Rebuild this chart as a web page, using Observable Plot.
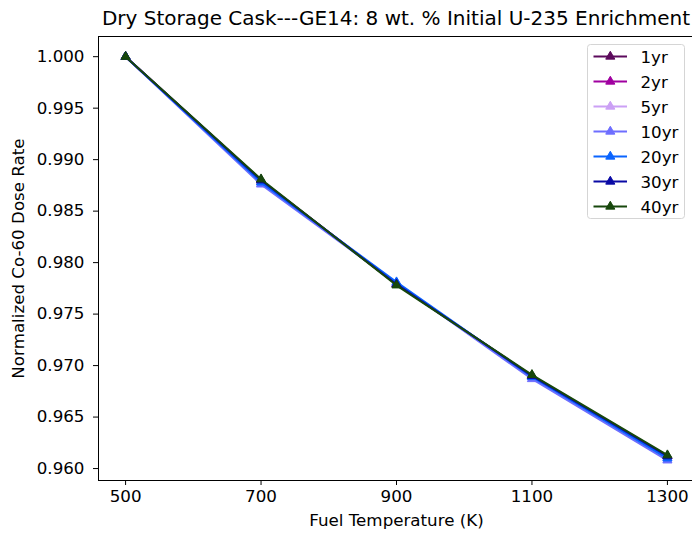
<!DOCTYPE html>
<html>
<head>
<meta charset="utf-8">
<script src="https://cdn.jsdelivr.net/npm/d3@7"></script>
<script src="https://cdn.jsdelivr.net/npm/@observablehq/plot@0.6"></script>
<style>
  html, body { margin: 0; padding: 0; background: white; overflow: hidden; }
  #chart { position: relative; width: 692px; height: 533px; }
</style>
</head>
<body>
<div id="chart"></div>
<script>
const temps = [500, 700, 900, 1100, 1300];
const seriesNames = ["1yr", "2yr", "5yr", "10yr", "20yr", "30yr", "40yr"];
const seriesColors = ["#5c0a5c", "#a000a0", "#cba0f5", "#6e6eff", "#0a64ff", "#0a0aa5", "#17470c"];
const yr1  = [1.0000, 0.9880, 0.9779, 0.9690, 0.9612];
const yr2  = [1.0000, 0.9880, 0.9779, 0.9690, 0.9612];
const yr5  = [1.0000, 0.9878, 0.9780, 0.9689, 0.9610];
const yr10 = [1.0000, 0.9876, 0.9780, 0.9687, 0.9608];
const yr20 = [1.0000, 0.9878, 0.9781, 0.9689, 0.9610];
const yr30 = [1.0000, 0.9880, 0.9779, 0.9690, 0.9612];
const yr40 = [1.0000, 0.9881, 0.9778, 0.9691, 0.9613];
const yTicks = [0.960, 0.965, 0.970, 0.975, 0.980, 0.985, 0.990, 0.995, 1.000];
const xTicks = [500, 700, 900, 1100, 1300];
const titleText = "Dry Storage Cask---GE14: 8 wt. % Initial U-235 Enrichment";

const allSeries = [yr1, yr2, yr5, yr10, yr20, yr30, yr40];
const rows = [];
seriesNames.forEach((s, i) => {
  temps.forEach((t, j) => rows.push({s, t, v: allSeries[i][j], order: i}));
});

const marks = [];
seriesNames.forEach((s) => {
  const d = rows.filter(r => r.s === s);
  marks.push(Plot.line(d, {x: "t", y: "v", stroke: "s", strokeWidth: 2.1}));
  marks.push(Plot.dot(d, {x: "t", y: "v", fill: "s", stroke: "s", strokeWidth: 1, symbol: "triangle", r: 3.4}));
});

const FS = 16.7;
const svg = Plot.plot({
  width: 692,
  height: 533,
  marginLeft: 98,
  marginRight: -2,
  marginTop: 36,
  marginBottom: 53,
  style: {fontFamily: "DejaVu Sans", fontSize: FS + "px", color: "black", background: "white"},
  x: {domain: [460, 1340]},
  y: {domain: [0.95884, 1.00196]},
  color: {domain: seriesNames, range: seriesColors},
  marks: [
    ...marks,
    Plot.frame({stroke: "black", strokeWidth: 1}),
    Plot.axisX({ticks: xTicks, tickFormat: d => String(d), tickSize: 5, tickPadding: 5, label: "Fuel Temperature (K)", labelAnchor: "center", labelOffset: 45, labelArrow: "none", fontSize: FS}),
    Plot.axisY({ticks: yTicks, tickFormat: d3.format(".3f"), tickSize: 5, tickPadding: 9, label: "Normalized Co-60 Dose Rate", labelAnchor: "center", labelOffset: 86, labelArrow: "none", fontSize: FS})
  ]
});

const root = d3.select(svg);
root.selectAll("text").attr("font-size", FS + "px");
root.append("text")
  .attr("x", 396).attr("y", 25)
  .attr("text-anchor", "middle")
  .attr("font-family", "DejaVu Sans")
  .attr("font-size", "20px")
  .attr("fill", "black")
  .text(titleText);

const lg = root.append("g").attr("transform", "translate(587,44)");
lg.append("rect").attr("x", 0.5).attr("y", 0.5).attr("width", 97).attr("height", 174)
  .attr("rx", 3).attr("fill", "white").attr("fill-opacity", 0.8).attr("stroke", "#d5d5d5");
seriesNames.forEach((s, i) => {
  const cy = 12.5 + i * 25;
  lg.append("line").attr("x1", 6.5).attr("x2", 40).attr("y1", cy).attr("y2", cy)
    .attr("stroke", seriesColors[i]).attr("stroke-width", 2.1);
  lg.append("path").attr("d", d3.symbol(d3.symbolTriangle, 36)()).attr("transform", `translate(23.3,${cy})`)
    .attr("fill", seriesColors[i]).attr("stroke", seriesColors[i]);
  lg.append("text").attr("x", 53.5).attr("y", cy + 6)
    .attr("text-anchor", "start")
    .attr("font-family", "DejaVu Sans").attr("font-size", FS + "px").attr("fill", "black").text(s);
});

document.getElementById("chart").appendChild(svg);
</script>
</body>
</html>
